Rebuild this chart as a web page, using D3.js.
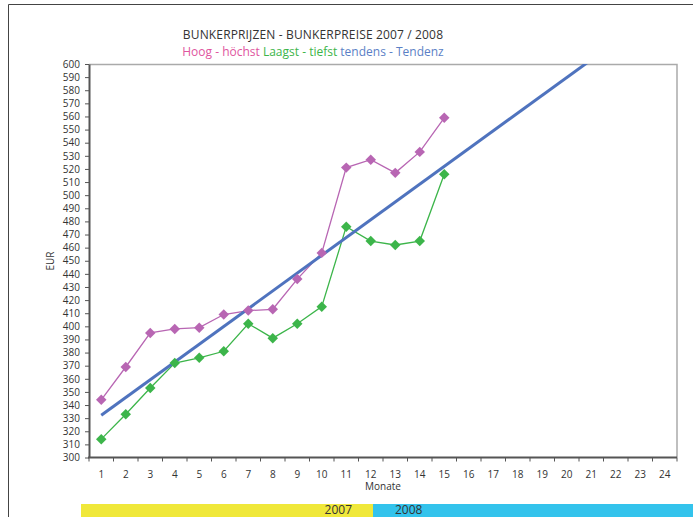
<!DOCTYPE html>
<html>
<head>
<meta charset="utf-8">
<script src="https://cdn.jsdelivr.net/npm/d3@7"></script>
<style>
  body { margin: 0; background: #fff; }
  text { font-family: "Open Sans", "DejaVu Sans", sans-serif; }
</style>
</head>
<body>
<div id="chart"></div>
<script>
// data
var months = d3.range(1, 25)   // 1 .. 24
var high = [344, 369, 395, 398, 399, 409, 412, 413, 436, 456, 521, 527, 517, 533, 559]
var low  = [314, 333, 353, 372, 376, 381, 402, 391, 402, 415, 476, 465, 462, 465, 516]
var yTicks = d3.range(300, 601, 10)
var years = ["2007", "2008"]

var W = 693, H = 517
var margin = {top: 64, right: 16, bottom: 59.5, left: 89},
    width = W - margin.left - margin.right,
    height = H - margin.top - margin.bottom;

var svg = d3.select("#chart")
  .append("svg")
    .attr("width", W)
    .attr("height", H)

// outer frame
svg.append("path")
    .attr("d", "M8.5," + H + "V4.5H" + W)
    .attr("fill", "none")
    .attr("stroke", "#444")
    .attr("stroke-width", 1)

// title + legend line
svg.append("text")
    .attr("x", 313).attr("y", 39)
    .attr("text-anchor", "middle")
    .attr("font-size", "12px")
    .attr("letter-spacing", "0.15px")
    .attr("fill", "#333")
    .text("BUNKERPRIJZEN - BUNKERPREISE 2007 / 2008")

var leg = svg.append("text")
    .attr("x", 313).attr("y", 56)
    .attr("text-anchor", "middle")
    .attr("font-size", "12px")
leg.append("tspan").attr("fill", "#e0559e").text("Hoog - höchst ")
leg.append("tspan").attr("fill", "#3db54a").text("Laagst - tiefst ")
leg.append("tspan").attr("fill", "#5b7fc6").text("tendens - Tendenz")

var g = svg.append("g")
    .attr("transform", "translate(" + margin.left + "," + margin.top + ")")

var x = d3.scaleBand()
    .domain(months)
    .range([0, width])
var cx = function(m) { return x(m) + x.bandwidth() / 2 }

var y = d3.scaleLinear()
    .domain([300, 600])
    .range([height, 0])

// plot area border (top + right, grey)
g.append("path")
    .attr("d", "M0,0.5H" + width + "V" + height)
    .attr("fill", "none")
    .attr("stroke", "#aaa")
    .attr("stroke-width", 1.5)

// y axis
var yAxis = g.append("g")
    .call(d3.axisLeft(y).tickValues(yTicks).tickSize(4).tickSizeOuter(0).tickPadding(5))
yAxis.select(".domain").attr("stroke", "#555").attr("stroke-width", 2)
yAxis.selectAll(".tick line").attr("stroke", "#555")
yAxis.selectAll("text").attr("font-size", "10px").attr("fill", "#333")
    .style("font-family", "'Open Sans', 'DejaVu Sans', sans-serif")

// x axis: ticks between categories
var xAxis = g.append("g")
    .attr("transform", "translate(0," + height + ")")
xAxis.append("line")
    .attr("x1", -1).attr("x2", width)
    .attr("stroke", "#555").attr("stroke-width", 2)
xAxis.selectAll("line.tk")
    .data(months.concat([25]))
    .enter().append("line")
    .attr("class", "tk")
    .attr("x1", function(d) { return d === 25 ? width : x(d) })
    .attr("x2", function(d) { return d === 25 ? width : x(d) })
    .attr("y1", 0).attr("y2", 4)
    .attr("stroke", "#555")
xAxis.selectAll("text")
    .data(months)
    .enter().append("text")
    .attr("x", function(d) { return cx(d) })
    .attr("y", 20)
    .attr("text-anchor", "middle")
    .attr("font-size", "10px")
    .attr("fill", "#333")
    .text(function(d) { return d })

svg.append("text")
    .attr("x", margin.left + width / 2).attr("y", 490)
    .attr("text-anchor", "middle")
    .attr("font-size", "10px").attr("fill", "#333")
    .text("Monate")

svg.append("text")
    .attr("transform", "translate(54,261) rotate(-90)")
    .attr("text-anchor", "middle")
    .attr("font-size", "10px").attr("fill", "#333")
    .text("EUR")

// trend line: linear fit of the mean of high/low, clipped to plot area
var mean = high.map(function(h, i) { return (h + low[i]) / 2 })
var mx = d3.mean(mean, function(d, i) { return i + 1 })
var my = d3.mean(mean)
var slope = d3.sum(mean, function(d, i) { return (i + 1 - mx) * (d - my) }) /
            d3.sum(mean, function(d, i) { return (i + 1 - mx) * (i + 1 - mx) })
var trend = function(m) { return my + slope * (m - mx) }

g.append("clipPath").attr("id", "clip")
  .append("rect").attr("width", width).attr("height", height)

var line = d3.line()
    .x(function(d) { return cx(d.m) })
    .y(function(d) { return y(d.v) })

// series lines
var series = [
  {vals: high, color: "#b866b3"},
  {vals: low, color: "#3cb54a"}
]
series.forEach(function(s) {
  var pts = s.vals.map(function(v, i) { return {m: i + 1, v: v} })
  g.append("path")
      .datum(pts)
      .attr("d", line)
      .attr("fill", "none")
      .attr("stroke", s.color)
      .attr("stroke-width", 1.3)
})

g.append("path")
    .datum([{m: 1, v: trend(1)}, {m: 24, v: trend(24)}])
    .attr("clip-path", "url(#clip)")
    .attr("d", line)
    .attr("fill", "none")
    .attr("stroke", "#4f73be")
    .attr("stroke-width", 3)

// diamond markers
var diamond = d3.symbol().type(d3.symbolDiamond2).size(70)
series.forEach(function(s) {
  g.selectAll(null)
      .data(s.vals)
      .enter().append("path")
      .attr("d", diamond)
      .attr("transform", function(d, i) { return "translate(" + cx(i + 1) + "," + y(d) + ")" })
      .attr("fill", s.color)
})

// year bands under the chart
var yearBand = d3.scaleOrdinal().domain(years).range([[81, 373], [373, W]])
var yearColor = d3.scaleOrdinal().domain(years).range(["#f0e83a", "#33c3ec"])
years.forEach(function(yr) {
  var r = yearBand(yr)
  svg.append("rect")
      .attr("x", r[0]).attr("y", 504)
      .attr("width", r[1] - r[0]).attr("height", H - 504)
      .attr("fill", yearColor(yr))
})
svg.append("text")
    .attr("x", 352).attr("y", 514)
    .attr("text-anchor", "end")
    .attr("font-size", "12px").attr("fill", "#333")
    .text(years[0])
svg.append("text")
    .attr("x", 395).attr("y", 514)
    .attr("font-size", "12px").attr("fill", "#333")
    .text(years[1])
</script>
</body>
</html>
